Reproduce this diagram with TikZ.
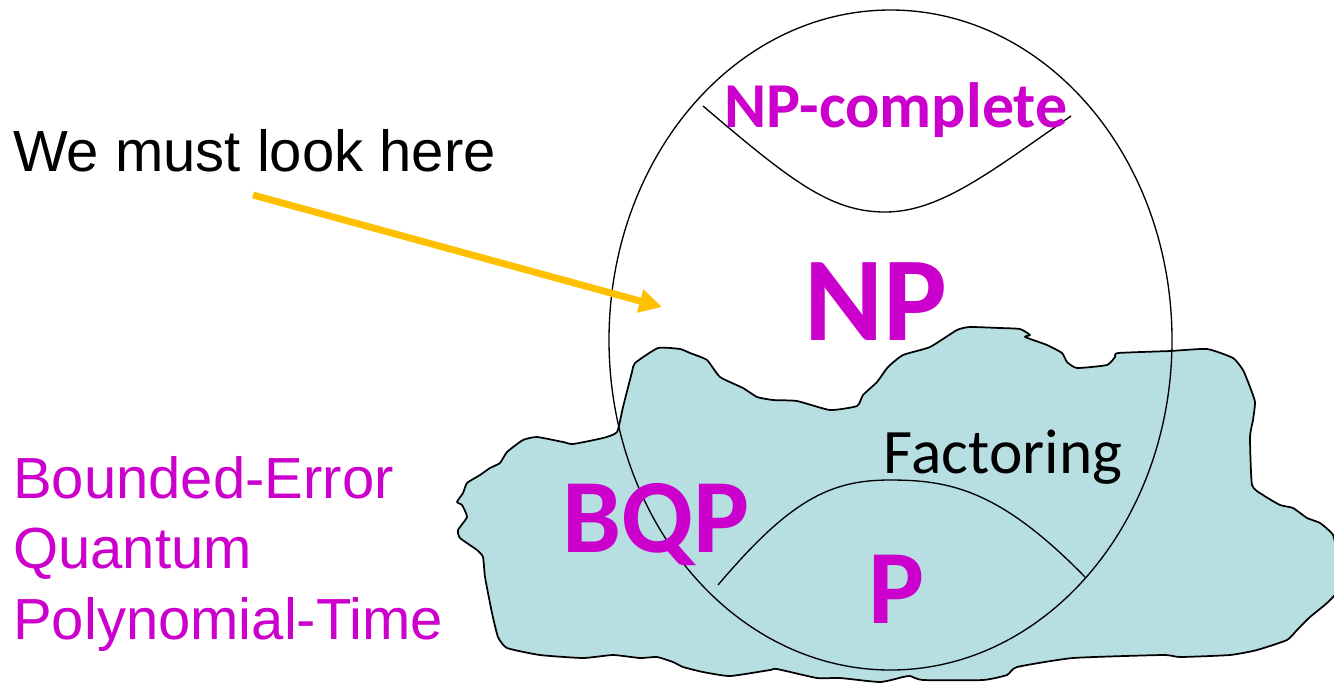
\documentclass[tikz,border=0pt]{standalone}
\usepackage{fontspec}
\setmainfont{Liberation Sans}
\newfontfamily\calibri{Carlito}
\usetikzlibrary{arrows.meta}
\definecolor{mag}{HTML}{CC00CC}
\definecolor{orng}{HTML}{FFC000}
\definecolor{bqpfill}{HTML}{B7DEE1}
\tikzset{
  arialtxt/.style={inner sep=0pt, anchor=base west, font=\fontsize{43.5}{50}\selectfont},
  clbig/.style={inner sep=0pt, anchor=base, text=mag, font=\calibri\bfseries\fontsize{79}{90}\selectfont},
  outline/.style={draw=black, line width=1pt},
}
\begin{document}
\begin{tikzpicture}[x=0.75pt,y=-0.75pt]
\useasboundingbox (0,0) rectangle (1334,683);
% BQP blob
\draw[fill=bqpfill, draw=black, line width=1.3pt, line join=round]
 plot[smooth cycle, tension=0.3] coordinates {
 (635,363) (658,348) (680,349) (690,353) (707,360) (720,377) (743,388) (757,397) (773,400) (797,401) (830,410) (857,406) (863,395) (877,382) (888,367) (903,355) (930,347) (957,330) (970,327) (1000,328) (1020,329) (1030,335) (1025,337) (1047,345) (1062,353) (1067,362) (1077,368) (1107,365) (1115,357) (1118,353) (1170,351) (1207,349) (1233,358) (1243,370) (1250,387) (1255,402) (1253,420) (1250,437) (1252,485) (1263,495) (1280,505) (1293,508) (1307,518) (1320,523) (1333,535) (1338,560) (1338,590) (1327,603) (1310,617) (1297,630) (1287,640) (1257,650) (1230,655) (1180,657) (1163,655) (1073,658) (1017,667) (1007,675) (983,680) (923,680) (910,676) (903,677) (880,682) (840,678) (817,678) (777,669) (770,670) (730,676) (703,672) (683,667) (673,662) (657,657) (640,658) (613,655) (583,658) (540,655) (507,648) (498,637) (492,613) (485,577) (483,557) (477,550) (460,538) (458,530) (467,517) (462,505) (457,502) (463,493) (467,483) (480,475) (490,468) (500,463) (507,452) (523,440) (537,437) (563,442) (573,444) (603,438) (617,432) (623,407) (632,372)};
% NP ellipse
\draw[outline] (890.5,340) ellipse [x radius=281.5, y radius=330];
% NP-complete arc
\coordinate (npcL) at (703,106);
\coordinate (npcB) at (885,212);
\coordinate (npcR) at (1071,116);
\draw[outline] (npcL) .. controls (790,180) and (830,212) .. (npcB) .. controls (940,212) and (990,172) .. (npcR);
% P arc
\coordinate (pL) at (718,585);
\coordinate (pT) at (890,480);
\coordinate (pR) at (1085,577);
\draw[outline] (pL) .. controls (790,500) and (830,480) .. (pT) .. controls (950,480) and (1000,490) .. (pR);
% texts
\node[clbig, font=\calibri\bfseries\fontsize{48}{55}\selectfont] (npc) at (896,127) {NP-complete};
\node[clbig, font=\calibri\bfseries\fontsize{90}{100}\selectfont] (np) at (876,340) {NP};
\node[clbig] (bqp) at (656,552) {BQP};
\node[clbig] (p) at (897,623) {P};
\node[inner sep=0pt, anchor=base, font=\calibri\fontsize{47.5}{54}\selectfont] (fact) at (1003,473) {Factoring};
\node[arialtxt] (look) at (13,171) {We must look here};
\node[arialtxt, text=mag] (be) at (13,498) {Bounded-Error};
\node[arialtxt, text=mag] (qu) at (13,568) {Quantum};
\node[arialtxt, text=mag] (pt) at (13,639) {Polynomial-Time};
% arrow
\coordinate (atail) at (253,195);
\coordinate (atip) at (662,307);
\draw[orng, line width=5.2pt, -{Triangle[length=17pt,width=17pt]}] (atail) -- (atip);
\end{tikzpicture}
\end{document}
